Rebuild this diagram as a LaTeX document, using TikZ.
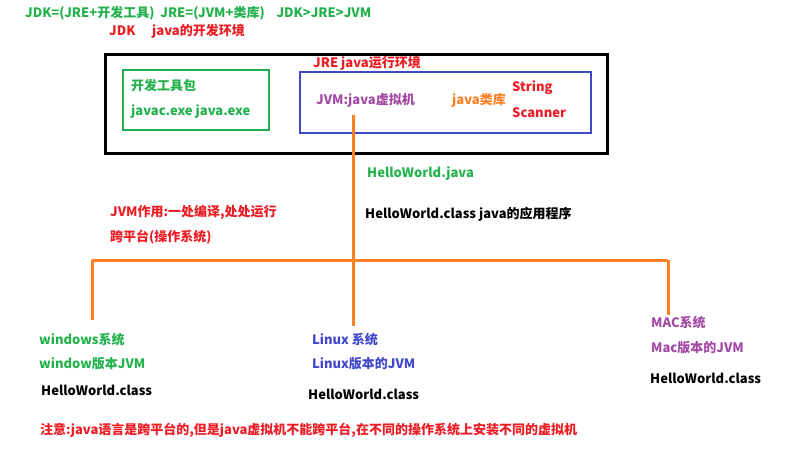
\documentclass[tikz,border=0pt]{standalone}
\usepackage{fontspec}
\setmainfont{Noto Sans CJK SC}
\usetikzlibrary{positioning}
\definecolor{jGreen}{RGB}{34,177,76}
\definecolor{jRed}{RGB}{237,28,36}
\definecolor{jBlue}{RGB}{63,72,204}
\definecolor{jPurple}{RGB}{163,73,164}
\definecolor{jOrange}{RGB}{255,127,39}
\tikzset{
    base/.style={font=\bfseries\fontsize{13}{15}\selectfont, anchor=west, inner sep=1pt},
    note/.style={base, text=jRed},
    tool/.style={base, text=jGreen},
    plain/.style={base, text=black},
    frame/.style={draw=#1, line width=2.5pt},
    branch/.style={draw=jOrange, line width=3pt}
}
\begin{document}
\begin{tikzpicture}[x=1pt, y=-1pt]
    \useasboundingbox (0,0) rectangle (793,453);

    % Headline
    \node[tool] (formula) at (24,13) {JDK=(JRE+开发工具)\ \ JRE=(JVM+类库)\ \ \ \ JDK>JRE>JVM};
    \node[note] (jdk) at (108,31) {JDK};
    \node[note] (jdkenv) at (151,31) {java的开发环境};

    % Boxes
    \draw[frame=black, line width=3pt] (105,54) rectangle (607,153);
    \draw[frame=jGreen] (123,70) rectangle (269,130);
    \draw[frame=jBlue] (300,72) rectangle (591,133);

    % Box contents
    \node[tool] (kit) at (130,86) {开发工具包};
    \node[tool] (exe) at (130,112) {javac.exe java.exe};
    \node[note] (jre) at (312,63) {JRE java运行环境};
    \node[base, text=jPurple] (jvm) at (315,100) {JVM:java虚拟机};
    \node[base, text=jOrange] (lib) at (451,100) {java类库};
    \node[note] (string) at (511,88) {String};
    \node[note] (scanner) at (511,113) {Scanner};

    % Compile step
    \node[tool] (src) at (366,174) {HelloWorld.java};
    \node[plain] (cls) at (364,214) {HelloWorld.class java的应用程序};
    \node[note] (role) at (109,212) {JVM作用:一处编译,处处运行};
    \node[note] (cross) at (109,237) {跨平台(操作系统)};

    % Platforms
    \node[tool] (win) at (38,340) {windows系统};
    \node[tool] (winjvm) at (38,364) {window版本JVM};
    \node[plain] (wincls) at (40,390) {HelloWorld.class};
    \node[base, text=jBlue] (linux) at (311,340) {Linux 系统};
    \node[base, text=jBlue] (linuxjvm) at (311,364) {Linux版本的JVM};
    \node[plain] (linuxcls) at (307,394) {HelloWorld.class};
    \node[base, text=jPurple] (mac) at (650,323) {MAC系统};
    \node[base, text=jPurple] (macjvm) at (650,348) {Mac版本的JVM};
    \node[plain] (maccls) at (649,378) {HelloWorld.class};
    \node[note] (warn) at (39,430) {注意:java语言是跨平台的,但是java虚拟机不能跨平台,在不同的操作系统上安装不同的虚拟机};

    % Orange tree
    \coordinate (jvmfoot) at (353,115);
    \coordinate (busL) at (92,260);
    \coordinate (busR) at (668,260);
    \draw[branch, shorten >=6pt] (jvmfoot) -- (linux.north -| jvmfoot);
    \draw[branch] (busL) -- (busR);
    \draw[branch, shorten >=12pt] (busL) -- (win.north -| busL);
    \draw[branch] (busR) -- (mac.north -| busR);
\end{tikzpicture}
\end{document}
